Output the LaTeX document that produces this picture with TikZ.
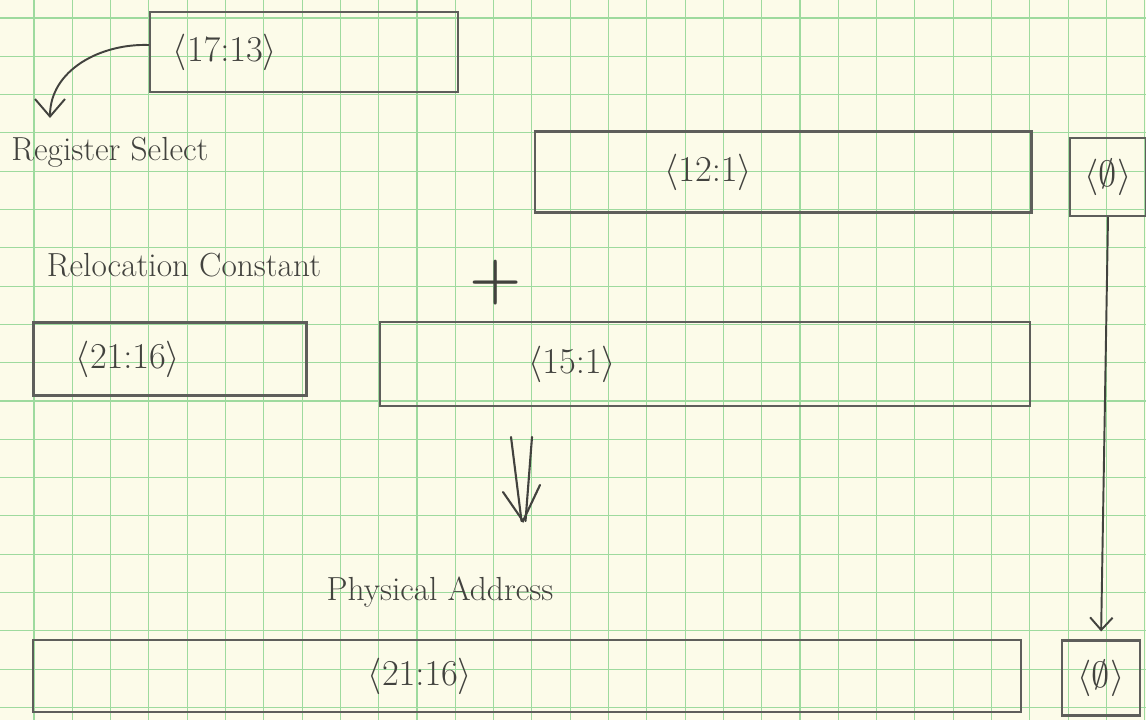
\documentclass[tikz,border=0pt]{standalone}
\usepackage{xcolor}
\usepackage{tikz}
\usetikzlibrary{
  arrows.meta,
  positioning
}
\definecolor{paper}{RGB}{252,251,233}
\definecolor{gridgreen}{RGB}{158,218,158}
\definecolor{pencil}{RGB}{66,66,62}
\tikzset{
  sketch/.style={ font=\fontsize{19}{22}\selectfont, text=pencil },
  gridline/.style={ draw=gridgreen, line width=0.6pt },
  regbox/.style 2 args={
    draw=pencil!85,
    line width=1.2pt,
    minimum width=#1,
    minimum height=#2,
    inner sep=0pt
  },
  field/.style={
    font=\fontsize{21}{24}\selectfont,
    text=pencil,
    inner sep=1pt
  },
  handnote/.style={
    font=\fontsize{19}{22}\selectfont,
    text=pencil
  },
  arrow/.style={
    -{Straight Barb[length=3.5mm,width=6mm]},
    line width=1.1pt,
    draw=pencil
  },
  pencilline/.style={
    line width=1.2pt,
    draw=pencil,
    line cap=round
  }
}

\begin{document}
\begin{tikzpicture}[x=0.02cm, y=-0.02cm, sketch]
  % graph paper
  \useasboundingbox (0,0) rectangle (1146,720);
  \fill[paper] (0,0) rectangle (1146,720);
  \foreach \i in {0,...,29}
    \draw[gridline] ({34+38.3*\i},0) -- ({34+38.3*\i},720);
  \foreach \j in {0,...,18}
    \draw[gridline] (0,{18+38.3*\j}) -- (1146,{18+38.3*\j});

  % register select field
  \node[regbox={6.16cm}{1.6cm}] (sel) at (304,52) {};
  \node[field] (sellbl) at ([xshift=-1.58cm]sel.center) {$\langle 17{:}13\rangle$};
  \node[handnote] (rsel) at (110,152) {Register Select};
  \coordinate (rseltip) at (50,118);

  % virtual address
  \node[regbox={9.94cm}{1.62cm}] (va) at (783,172) {};
  \node[field] (valbl) at ([xshift=-1.5cm]va.center) {$\langle 12{:}1\rangle$};
  \node[regbox={1.52cm}{1.56cm}, field] (zin) at (1108,177) {$\langle\emptyset\rangle$};

  % relocation constant
  \node[handnote] (reloc) at (184,265) {Relocation Constant};
  \node[font=\fontsize{34}{34}\bfseries\selectfont, text=pencil] (plus) at (496,283) {+};
  \node[regbox={5.46cm}{1.46cm}] (rhi) at (170,359) {};
  \node[field] (rhilbl) at ([xshift=-0.84cm]rhi.center) {$\langle 21{:}16\rangle$};
  \node[regbox={13.0cm}{1.68cm}] (rlo) at (705,364) {};
  \node[field] (rlolbl) at ([xshift=-2.66cm]rlo.center) {$\langle 15{:}1\rangle$};

  % physical address
  \coordinate (sumtop) at (522,437);
  \coordinate (sumtip) at (523,521);
  \node[handnote] (paddr) at (440,592) {Physical Address};
  \node[regbox={19.78cm}{1.44cm}] (pa) at (527,676) {};
  \node[field] (palbl) at ([xshift=-2.14cm]pa.center) {$\langle 21{:}16\rangle$};
  \node[regbox={1.56cm}{1.5cm}, field] (zout) at (1101,678) {$\langle\emptyset\rangle$};

  % connectors
  \draw[arrow] ([yshift=0.14cm]sel.west) to[out=178, in=90] (rseltip);
  \draw[pencilline] ([xshift=-0.22cm]sumtop) -- ([xshift=-0.03cm]sumtip);
  \draw[pencilline] ([xshift=0.2cm]sumtop) -- ([xshift=0.05cm]sumtip);
  \draw[pencilline] ([xshift=-0.4cm,yshift=0.58cm]sumtip) -- (sumtip)
    -- ([xshift=0.34cm,yshift=0.72cm]sumtip);
  \draw[arrow, -{Straight Barb[length=2.5mm,width=4.5mm]}, shorten >=0.16cm]
    (zin.south) -- (zout.north);
\end{tikzpicture}
\end{document}
